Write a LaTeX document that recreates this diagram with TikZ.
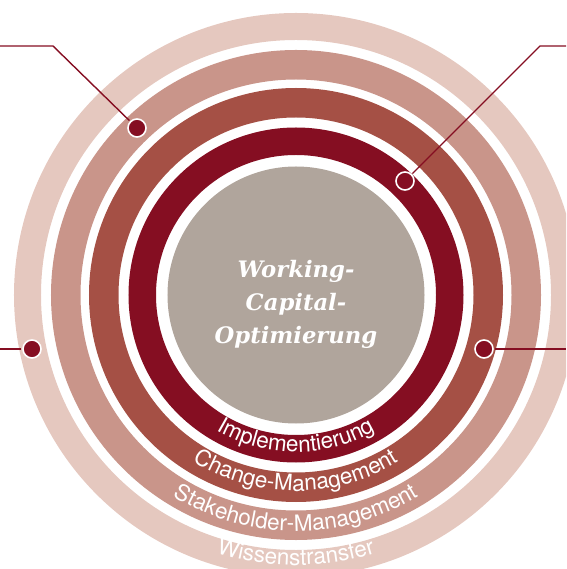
\documentclass[tikz,border=0pt]{standalone}
\usepackage{fontspec}
\setsansfont{TeX Gyre Heros}
\newfontfamily\slabfont{DejaVu Serif}
\usetikzlibrary{decorations.text}

\definecolor{ringA}{HTML}{E5C8BF}
\definecolor{ringB}{HTML}{C9958A}
\definecolor{ringC}{HTML}{A55045}
\definecolor{ringD}{HTML}{850E22}
\definecolor{coregray}{HTML}{B0A59C}

\newcommand\ringfont{\sffamily\fontsize{22.5}{22.5}\selectfont}

\tikzset{
  ring/.style={even odd rule},
  marker/.style={circle, fill=ringD, draw=white, line width=1.6pt,
                 minimum size=18pt, inner sep=0pt},
  leader/.style={draw=ringD, line width=1.4pt, shorten <=0.8pt},
  ringlabel/.style={decorate, decoration={text along path, text align=center,
                    text color=white, text={|\ringfont|#1}}}
}

\begin{document}
\begin{tikzpicture}[x=1pt,y=1pt]
  \useasboundingbox (-296,-274) rectangle (270,295);
  \clip (-296,-274) rectangle (270,295);

  % concentric rings, outside in
  \fill[ringA, ring] (0,0) circle (282) (0,0) circle (255);
  \fill[ringB, ring] (0,0) circle (245) (0,0) circle (215.5);
  \fill[ringC, ring] (0,0) circle (207) (0,0) circle (177.5);
  \fill[ringD, ring] (0,0) circle (167.5) (0,0) circle (140);
  \node[circle, fill=coregray, minimum size=257pt, inner sep=0pt] (core) at (0,0) {};

  % title in the core
  \node[text=white, align=center, font=\slabfont\bfseries\itshape\fontsize{22.7}{33}\selectfont]
    (title) at (0,-9) {Working-\\Capital-\\Optimierung};

  % curved ring labels
  \path[ringlabel=Implementierung]
    (200:157) arc[start angle=200, end angle=340, radius=157];
  \path[ringlabel=Change-Management]
    (200:196) arc[start angle=200, end angle=340, radius=196];
  \path[ringlabel=Stakeholder-Management]
    (200:236) arc[start angle=200, end angle=340, radius=236];
  \path[ringlabel=Wissenstransfer]
    (200:270) arc[start angle=200, end angle=340, radius=270];

  % markers on the rings
  \node[marker] (mB) at (-159,167) {};
  \node[marker] (mD) at (109,114) {};
  \node[marker] (mA) at (-264,-54) {};
  \node[marker] (mC) at (188,-54) {};

  % leader line ends
  \coordinate (kB) at (-243,249);
  \coordinate (fB) at (-296,249);
  \coordinate (kD) at (244,249);
  \coordinate (fD) at (270,249);
  \coordinate (fA) at (-296,-54);
  \coordinate (fC) at (270,-54);

  \draw[leader] (mB) -- (kB) -- (fB);
  \draw[leader] (mD) -- (kD) -- (fD);
  \draw[leader] (mA) -- (fA);
  \draw[leader] (mC) -- (fC);
\end{tikzpicture}
\end{document}
